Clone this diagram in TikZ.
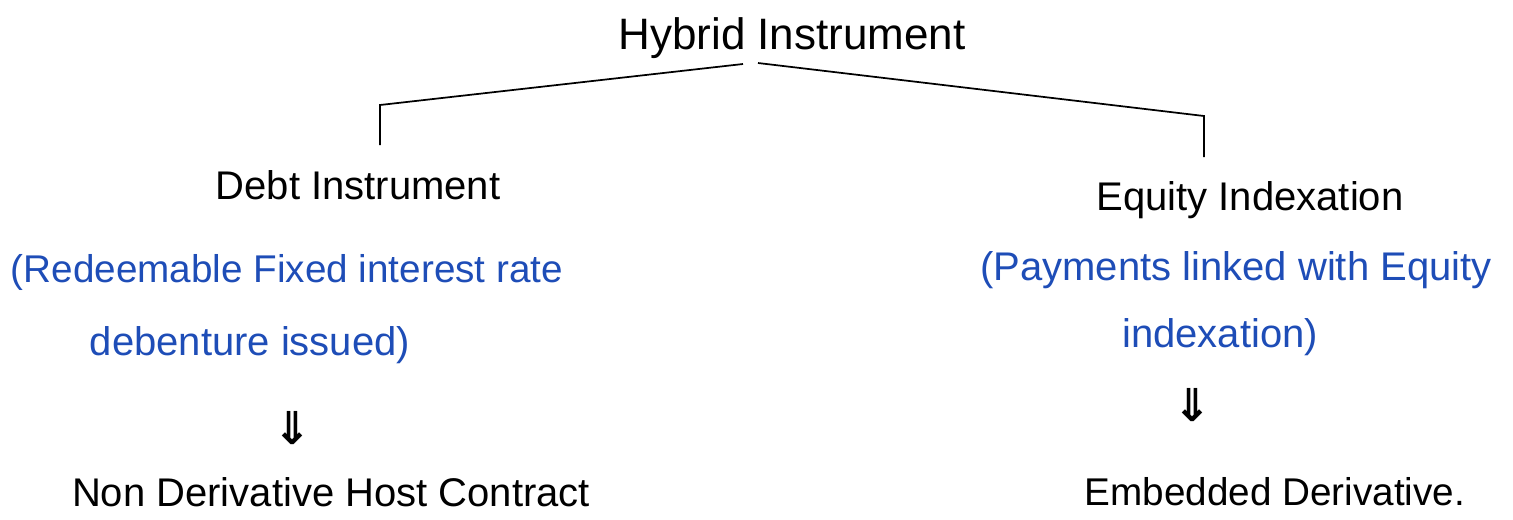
\documentclass[tikz,border=0pt]{standalone}
\usepackage{fontspec}
\setmainfont{Liberation Sans}
\newfontfamily\symfont{DejaVu Sans}
\definecolor{inkblue}{HTML}{1E4DB7}
\begin{document}
\begin{tikzpicture}[x=0.75pt,y=-0.75pt,
  lbl/.style={inner sep=0pt,font=\fontsize{30}{36}\selectfont,text=black},
  note/.style={lbl,text=inkblue},
  arr/.style={inner sep=0pt,font=\symfont\bfseries\fontsize{34}{40}\selectfont},
  conn/.style={draw=black,line width=1.3pt}]
\useasboundingbox (0,0) rectangle (1513,519);
\node[lbl,font=\fontsize{33}{38}\selectfont] (top) at (792,38) {Hybrid Instrument};
\node[lbl] (debt) at (358,185) {Debt Instrument};
\node[note,font=\fontsize{29}{34}\selectfont] (dn1) at (287,272) {(Redeemable Fixed interest rate};
\node[note] (dn2) at (250,345) {debenture issued)};
\node[arr] (a1) at (292,428) {⇓};
\node[lbl] (host) at (331,492) {Non Derivative Host Contract};
\node[lbl] (eq) at (1250,200) {Equity Indexation};
\node[note] (en1) at (1236,270) {(Payments linked with Equity};
\node[note] (en2) at (1220,337) {indexation)};
\node[arr] (a2) at (1192,405) {⇓};
\node[lbl,font=\fontsize{29}{34}\selectfont] (emb) at (1275,492) {Embedded Derivative.};
\coordinate (l0) at (743,64);
\coordinate (l1) at (380,105);
\coordinate (l2) at (380,145);
\coordinate (r0) at (758,63);
\coordinate (r1) at (1204,116);
\coordinate (r2) at (1204,157);
\draw[conn] (l0) -- (l1) -- (l2);
\draw[conn] (r0) -- (r1) -- (r2);
\end{tikzpicture}
\end{document}
